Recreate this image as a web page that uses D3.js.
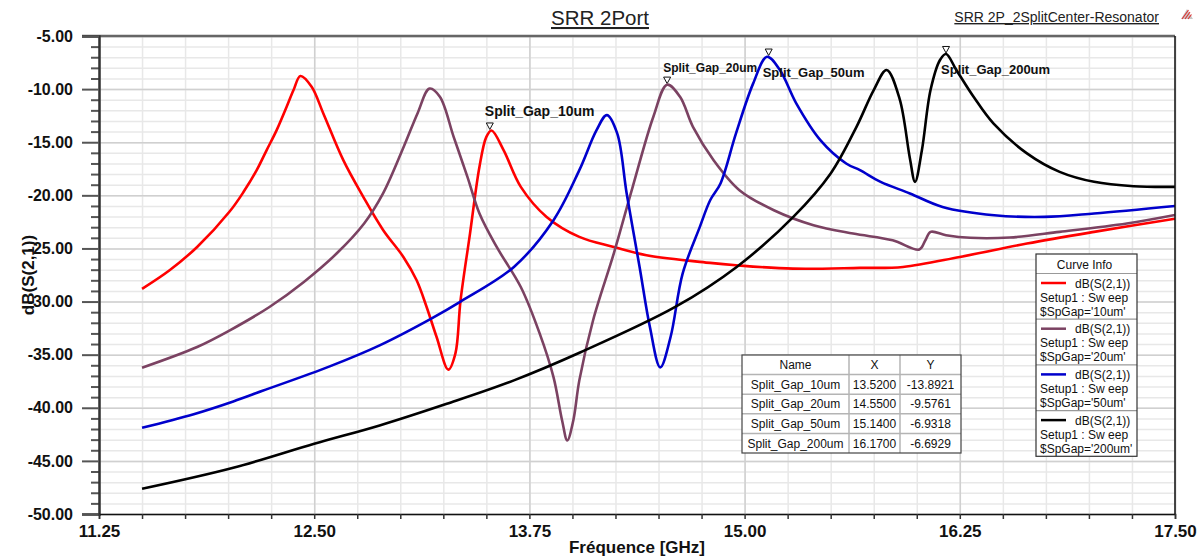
<!DOCTYPE html>
<html>
<head>
<meta charset="utf-8">
<script src="https://cdn.jsdelivr.net/npm/d3@7"></script>
<style>
  body { margin: 0; background: #fff; }
  svg { font-family: "Liberation Sans", Arial, sans-serif; }
</style>
</head>
<body>
<div id="chart"></div>
<script>
// ---- data ----
const freq10 = [11.50, 11.66, 11.82, 12.01, 12.09, 12.166, 12.224, 12.282, 12.34, 12.38, 12.42, 12.485, 12.553, 12.669, 12.785, 12.901, 13.018, 13.095, 13.153, 13.211, 13.279, 13.32, 13.35, 13.405, 13.46, 13.50, 13.53, 13.60, 13.70, 13.85, 14.04, 14.24, 14.43, 14.80, 14.95, 15.28, 15.67, 15.92, 16.25, 16.64, 17.03, 17.50];
const db10 = [-28.8, -27.05, -24.86, -21.5, -19.67, -17.63, -15.74, -13.86, -11.66, -10.09, -8.77, -9.78, -12.29, -16.69, -20.14, -23.28, -25.8, -28.0, -30.51, -33.34, -36.41, -34.9, -29.9, -23.6, -17.3, -14.5, -13.9, -15.74, -19.2, -22.03, -23.91, -24.86, -25.64, -26.36, -26.58, -26.9, -26.83, -26.74, -25.8, -24.54, -23.44, -22.2];

const freq20 = [11.50, 11.82, 12.01, 12.24, 12.44, 12.63, 12.79, 12.90, 13.02, 13.10, 13.17, 13.23, 13.31, 13.39, 13.46, 13.56, 13.70, 13.81, 13.89, 13.94, 13.97, 14.005, 14.04, 14.12, 14.24, 14.35, 14.47, 14.55, 14.625, 14.70, 14.82, 14.97, 15.17, 15.40, 15.63, 15.86, 16.015, 16.05, 16.08, 16.17, 16.31, 16.54, 16.83, 17.22, 17.50];
const db20 = [-36.23, -34.28, -32.71, -30.51, -28.15, -25.48, -22.65, -19.82, -15.43, -12.29, -9.95, -10.72, -14.49, -18.26, -21.71, -24.86, -28.63, -33.02, -37.11, -41.19, -43.07, -41.19, -37.42, -31.76, -25.48, -19.2, -12.6, -9.58, -10.72, -13.55, -16.69, -19.51, -21.4, -22.81, -23.6, -24.23, -25.1, -24.23, -23.44, -23.75, -24.0, -23.97, -23.44, -22.65, -21.85];

const freq50 = [11.50, 11.80, 12.03, 12.20, 12.59, 12.88, 13.18, 13.35, 13.66, 13.89, 14.04, 14.14, 14.20, 14.26, 14.315, 14.39, 14.45, 14.51, 14.57, 14.64, 14.74, 14.80, 14.86, 14.95, 15.05, 15.13, 15.205, 15.30, 15.44, 15.59, 15.67, 15.79, 15.96, 16.15, 16.45, 16.74, 17.03, 17.50];
const db50 = [-41.88, -40.6, -39.4, -38.4, -36.1, -34.12, -31.6, -30.0, -26.74, -22.34, -17.63, -13.86, -12.45, -14.17, -19.82, -26.74, -32.4, -36.2, -33.34, -27.37, -22.97, -20.46, -18.88, -14.17, -9.46, -6.95, -8.2, -11.34, -14.8, -17.0, -17.63, -18.73, -19.82, -21.09, -21.87, -22.03, -21.71, -21.0];

const freq200 = [11.50, 12.03, 12.50, 12.88, 13.27, 13.66, 14.044, 14.597, 14.954, 15.283, 15.50, 15.65, 15.75, 15.825, 15.90, 15.96, 15.99, 16.03, 16.08, 16.135, 16.17, 16.23, 16.33, 16.445, 16.64, 16.83, 17.03, 17.26, 17.50];
const db200 = [-47.63, -45.65, -43.39, -41.66, -39.62, -37.42, -34.8, -30.51, -26.74, -22.03, -17.94, -13.55, -10.09, -8.2, -10.9, -16.5, -18.73, -15.74, -10.09, -7.26, -6.7, -8.2, -10.72, -13.23, -16.05, -17.79, -18.73, -19.14, -19.2];

const seriesNames = ["Split_Gap_10um", "Split_Gap_20um", "Split_Gap_50um", "Split_Gap_200um"];
const seriesGaps = ["10um", "20um", "50um", "200um"];
const seriesColors = ["#ff0000", "#7b4262", "#0000cc", "#000000"];

const markerX = [13.52, 14.55, 15.14, 16.17];
const markerY = [-13.8921, -9.5761, -6.9318, -6.6929];

const xMajor = [11.25, 12.5, 13.75, 15.0, 16.25, 17.5];
const yMajor = [-50, -45, -40, -35, -30, -25, -20, -15, -10, -5];

// ---- layout ----
const W = 1203, H = 559;
const margin = {top: 36, right: 28, bottom: 45, left: 99};

const x = d3.scaleLinear().domain([11.25, 17.5]).range([margin.left, W - margin.right]);
const y = d3.scaleLinear().domain([-50, -5]).range([H - margin.bottom, margin.top]);

const svg = d3.select("#chart").append("svg")
    .attr("width", W)
    .attr("height", H);

svg.append("rect").attr("width", W).attr("height", H).attr("fill", "#fff");

const x0 = x.range()[0], x1 = x.range()[1];
const y0 = y.range()[1], y1 = y.range()[0];

// grid lines, minor then major
const xMinor = d3.range(11.25, 17.51, 0.25);
const yMinor = d3.range(-50, -4.99, 1);

svg.append("g")
    .attr("transform", `translate(0,${y1})`)
    .call(d3.axisBottom(x).tickValues(xMinor).tickSize(-(y1 - y0)).tickFormat(""))
    .call(g => g.select(".domain").remove())
    .call(g => g.selectAll("line").attr("stroke", "#e8e8e8").attr("stroke-width", 1.5));

svg.append("g")
    .attr("transform", `translate(${x0},0)`)
    .call(d3.axisLeft(y).tickValues(yMinor).tickSize(-(x1 - x0)).tickFormat(""))
    .call(g => g.select(".domain").remove())
    .call(g => g.selectAll("line").attr("stroke", "#e8e8e8").attr("stroke-width", 1.5));

svg.append("g")
    .attr("transform", `translate(0,${y1})`)
    .call(d3.axisBottom(x).tickValues(xMajor).tickSize(-(y1 - y0)).tickFormat(""))
    .call(g => g.select(".domain").remove())
    .call(g => g.selectAll("line").attr("stroke", "#d0d0d0").attr("stroke-width", 1.5));

svg.append("g")
    .attr("transform", `translate(${x0},0)`)
    .call(d3.axisLeft(y).tickValues(yMajor).tickSize(-(x1 - x0)).tickFormat(""))
    .call(g => g.select(".domain").remove())
    .call(g => g.selectAll("line").attr("stroke", "#d0d0d0").attr("stroke-width", 1.5));

// marker triangles sit under the curves
const mk = svg.append("g")
  .selectAll("g")
  .data(markerX.map((mx, i) => ({x: mx, y: markerY[i], name: seriesNames[i]})))
  .join("g")
    .attr("transform", d => `translate(${x(d.x)},${y(d.y)})`);

mk.append("path")
    .attr("d", "M-3.5,-7.5 L3.5,-7.5 L0,-1 Z")
    .attr("fill", "#fff")
    .attr("stroke", "#111")
    .attr("stroke-width", 1);

// curves
svg.append("clipPath").attr("id", "plot-clip")
  .append("rect")
    .attr("x", x0).attr("y", y0)
    .attr("width", x1 - x0).attr("height", y1 - y0);

const line = d3.line()
    .x(d => x(d[0]))
    .y(d => y(d[1]))
    .curve(d3.curveCatmullRom.alpha(0.5));

const series = [
  {f: freq10, db: db10},
  {f: freq20, db: db20},
  {f: freq50, db: db50},
  {f: freq200, db: db200}
].map((s, i) => ({
  name: seriesNames[i],
  color: seriesColors[i],
  values: s.f.map((f, j) => [f, s.db[j]])
}));

svg.append("g")
    .attr("clip-path", "url(#plot-clip)")
  .selectAll("path")
  .data(series)
  .join("path")
    .attr("fill", "none")
    .attr("stroke", d => d.color)
    .attr("stroke-width", 2.6)
    .attr("stroke-linejoin", "round")
    .attr("d", d => line(d.values));

// marker labels
const markerText = [
  {dy: -14, size: 14, dx: -5},
  {dy: -12.5, size: 12, dx: -4},
  {dy: 20.5, size: 13, dx: -6},
  {dy: 20, size: 13, dx: -5}
];

svg.append("g")
  .selectAll("text")
  .data(markerX.map((mx, i) => ({x: mx, y: markerY[i], name: seriesNames[i], t: markerText[i]})))
  .join("text")
    .attr("x", d => x(d.x) + d.t.dx)
    .attr("y", d => y(d.y) + d.t.dy)
    .style("font", d => `bold ${d.t.size}px 'Liberation Sans', Arial, sans-serif`)
    .attr("fill", "#111")
    .text(d => d.name);

// frame
svg.append("line")
    .attr("x1", x0 - 17).attr("x2", x1)
    .attr("y1", y0).attr("y2", y0)
    .attr("stroke", "#666").attr("stroke-width", 2.5);
svg.append("line")
    .attr("x1", x1).attr("x2", x1)
    .attr("y1", y0).attr("y2", y1)
    .attr("stroke", "#111").attr("stroke-width", 1.5);

// y axis
svg.append("g")
    .attr("transform", `translate(${x0},0)`)
    .call(d3.axisLeft(y).tickValues(yMinor.filter(v => v % 5 !== 0)).tickSize(8).tickFormat(""))
    .call(g => g.select(".domain").remove())
    .call(g => g.selectAll("line").attr("stroke", "#555").attr("stroke-width", 2));

svg.append("g")
    .attr("transform", `translate(${x0},0)`)
    .call(d3.axisLeft(y).tickValues(yMajor).tickSize(17).tickPadding(9).tickFormat(d => d.toFixed(2)))
    .call(g => g.select(".domain").attr("stroke", "#333").attr("stroke-width", 2.5))
    .call(g => g.selectAll("line").attr("stroke", "#555").attr("stroke-width", 2))
    .call(g => g.selectAll("text")
        .attr("fill", "#111")
        .style("font", "bold 16px 'Liberation Sans', Arial, sans-serif"));

// x axis
svg.append("g")
    .attr("transform", `translate(0,${y1})`)
    .call(d3.axisBottom(x).tickValues(xMinor).tickSize(5).tickPadding(6)
        .tickFormat(d => xMajor.some(m => Math.abs(m - d) < 1e-6) ? d.toFixed(2) : ""))
    .call(g => g.select(".domain").attr("stroke", "#111").attr("stroke-width", 1.5))
    .call(g => g.selectAll("line").attr("stroke", "#333").attr("stroke-width", 1.5))
    .call(g => g.selectAll("text")
        .attr("fill", "#111")
        .style("font", "bold 17px 'Liberation Sans', Arial, sans-serif"));

// axis titles
svg.append("text")
    .attr("x", (x0 + x1) / 2)
    .attr("y", 553)
    .attr("text-anchor", "middle")
    .style("font", "bold 17px 'Liberation Sans', Arial, sans-serif")
    .attr("fill", "#111")
    .text("Fréquence [GHz]");

svg.append("text")
    .attr("transform", `translate(34,${(y0 + y1) / 2}) rotate(-90)`)
    .attr("text-anchor", "middle")
    .style("font", "bold 17px 'Liberation Sans', Arial, sans-serif")
    .attr("fill", "#111")
    .text("dB(S(2,1))");

// titles
svg.append("text")
    .attr("x", 600).attr("y", 25)
    .attr("text-anchor", "middle")
    .style("font", "20.5px 'Liberation Sans', Arial, sans-serif")
    .style("text-decoration", "underline")
    .attr("fill", "#222")
    .text("SRR 2Port");

svg.append("text")
    .attr("x", 1159).attr("y", 22)
    .attr("text-anchor", "end")
    .style("font", "14px 'Liberation Sans', Arial, sans-serif")
    .style("text-decoration", "underline")
    .attr("fill", "#222")
    .text("SRR 2P_2SplitCenter-Resonator");

// little icon at the top right
const icon = svg.append("g").attr("transform", "translate(1187,9)");
icon.append("path").attr("d", "M0,0 L6,10 L-6,10 Z").attr("fill", "#c8c8c8");
icon.append("path").attr("d", "M-2,10 L3,3 M1,10 L4.5,5.5 M-5,10 L1.5,1").attr("stroke", "#e03030").attr("stroke-width", 1.1);

// marker table
const tbl = {x: 742, y: 355, w: [107, 51, 61], rowH: 19.6};
const tableRows = [["Name", "X", "Y"]].concat(
  seriesNames.map((n, i) => [n, markerX[i].toFixed(4), markerY[i].toFixed(4)]));
const tblW = d3.sum(tbl.w);
const colX = [0, tbl.w[0], tbl.w[0] + tbl.w[1], tblW];

const tg = svg.append("g").attr("transform", `translate(${tbl.x},${tbl.y})`);
tg.append("rect")
    .attr("width", tblW).attr("height", tbl.rowH * tableRows.length)
    .attr("fill", "#fff");
tableRows.forEach((row, r) => {
  if (r > 0) {
    tg.append("line")
        .attr("x1", 0).attr("x2", tblW)
        .attr("y1", r * tbl.rowH).attr("y2", r * tbl.rowH)
        .attr("stroke", "#b4b4b4").attr("stroke-width", 1.5);
  }
  row.forEach((cell, c) => {
    tg.append("text")
        .attr("x", (colX[c] + colX[c + 1]) / 2)
        .attr("y", r * tbl.rowH + tbl.rowH / 2 + 4.3)
        .attr("text-anchor", "middle")
        .style("font", "12px 'Liberation Sans', Arial, sans-serif")
        .attr("fill", "#111")
        .text(cell);
  });
});
[1, 2].forEach(c => {
  tg.append("line")
      .attr("x1", colX[c]).attr("x2", colX[c])
      .attr("y1", 0).attr("y2", tbl.rowH * tableRows.length)
      .attr("stroke", "#b4b4b4").attr("stroke-width", 1.5);
});
tg.append("rect")
    .attr("width", tblW).attr("height", tbl.rowH * tableRows.length)
    .attr("fill", "none")
    .attr("stroke", "#444").attr("stroke-width", 1.2);

// curve info legend
const lg = {x: 1036, y: 254, w: 101, headH: 19.5, entryH: 45.7};
const leg = svg.append("g").attr("transform", `translate(${lg.x},${lg.y})`);
const legH = lg.headH + lg.entryH * seriesNames.length;
leg.append("rect").attr("width", lg.w).attr("height", legH).attr("fill", "#fff");
leg.append("text")
    .attr("x", lg.w / 2 - 2).attr("y", 14.5)
    .attr("text-anchor", "middle")
    .style("font", "12px 'Liberation Sans', Arial, sans-serif")
    .attr("fill", "#111")
    .text("Curve Info");

const entry = leg.selectAll("g.entry")
  .data(series)
  .join("g")
    .attr("class", "entry")
    .attr("transform", (d, i) => `translate(0,${lg.headH + i * lg.entryH})`);

entry.append("line")
    .attr("x1", 0).attr("x2", lg.w)
    .attr("stroke", "#999").attr("stroke-width", 1.2);
entry.append("line")
    .attr("x1", 5).attr("x2", 30)
    .attr("y1", 9.5).attr("y2", 9.5)
    .attr("stroke", d => d.color).attr("stroke-width", 2.5);

const entryLines = (d, i) => ["dB(S(2,1))", "Setup1 : Sw eep", `$SpGap='${seriesGaps[i]}'`];
entry.each(function (d, i) {
  const e = d3.select(this);
  entryLines(d, i).forEach((t, k) => {
    e.append("text")
        .attr("x", k === 0 ? 39 : 4)
        .attr("y", 14 + k * 14)
        .style("font", "12px 'Liberation Sans', Arial, sans-serif")
        .attr("fill", "#111")
        .text(t);
  });
});

leg.append("rect")
    .attr("width", lg.w).attr("height", legH)
    .attr("fill", "none")
    .attr("stroke", "#333").attr("stroke-width", 1.2);
</script>
</body>
</html>
